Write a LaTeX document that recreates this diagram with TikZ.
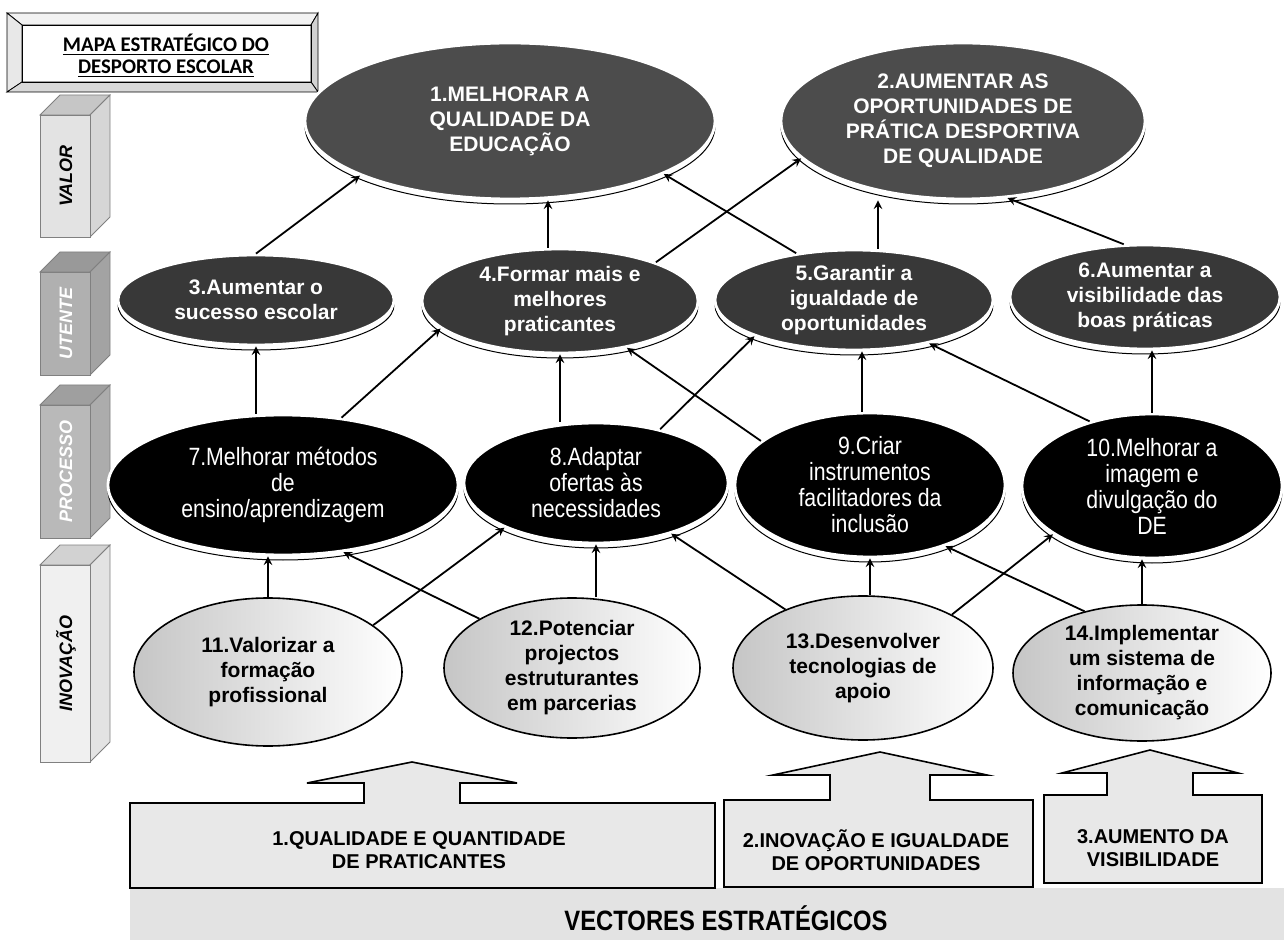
\documentclass[tikz,border=0pt]{standalone}
\usepackage{fontspec}
\setmainfont{Liberation Sans}
\newfontfamily\titlefont{Carlito}
\newfontfamily\narrowfont[FakeStretch=0.85]{Liberation Sans}
\usetikzlibrary{arrows,shapes.geometric,shadows}

\begin{document}
\begin{tikzpicture}[x=0.5pt,y=-0.5pt,
  rim/.style={ellipse, inner sep=0pt, draw=white, line width=1.4pt, text=white, align=center,
    general shadow={draw=black, fill=white, line width=0.5pt, shadow yshift=-2.5pt}},
  valor/.style={rim, fill=black!70, font=\fontsize{10.5pt}{12.5pt}\selectfont\bfseries},
  utente/.style={rim, fill=black!78, font=\fontsize{10.5pt}{12.5pt}\selectfont\bfseries},
  processo/.style={rim, fill=black, font=\narrowfont\fontsize{12.5pt}{13pt}\selectfont},
  inovacao/.style={ellipse, inner sep=0pt, draw=black, line width=0.8pt, left color=gray!45,
    right color=white, align=center, font=\fontsize{10.5pt}{12.5pt}\selectfont\bfseries},
  link/.style={->,>=stealth,line width=0.9pt},
  vector/.style={fill=gray!18, draw=black, line width=0.8pt},
  vectortext/.style={align=center, font=\fontsize{10pt}{11.5pt}\selectfont\bfseries}]
\useasboundingbox (0,0) rectangle (1284,940);

% title frame
\filldraw[fill=gray!10] (7,13) -- (318,13) -- (311,25) -- (22,25) -- cycle;
\filldraw[fill=gray!18] (7,13) -- (22,25) -- (22,82) -- (7,92) -- cycle;
\filldraw[fill=gray!35] (318,13) -- (318,92) -- (311,82) -- (311,25) -- cycle;
\filldraw[fill=gray!30] (7,92) -- (318,92) -- (311,82) -- (22,82) -- cycle;
\draw (22,25) rectangle (311,82);
\node[align=center, font=\titlefont\fontsize{10.4pt}{11pt}\selectfont\bfseries] (title) at (166,56)
{\underline{MAPA ESTRATÉGICO DO}\\\underline{DESPORTO ESCOLAR}};

% perspective blocks
\foreach \yt/\yb/\fc/\tpc/\sdc/\lab/\txc [count=\i] in {
  95/237/gray!22/gray!45/gray!32/VALOR/black,
  252/375/gray!62/gray!80/gray!72/UTENTE/white,
  385/538/gray!55/gray!75/gray!65/PROCESSO/white,
  545/762/gray!12/gray!35/gray!22/INOVAÇÃO/black}
{
  \filldraw[fill=\tpc, draw=gray] (40,\yt+20) -- (60,\yt) -- (110,\yt) -- (90,\yt+20) -- cycle;
  \filldraw[fill=\sdc, draw=gray] (90,\yt+20) -- (110,\yt) -- (110,\yb-20) -- (90,\yb) -- cycle;
  \filldraw[fill=\fc, draw=gray] (40,\yt+20) rectangle (90,\yb);
  \node[rotate=90, text=\txc, font=\fontsize{9pt}{10pt}\selectfont\bfseries\itshape] (side\i)
    at (66,{(\yt+\yb+20)/2}) {\lab};
}

\node[valor, minimum width=205pt, minimum height=78pt] (1) at (510,121)
{1.MELHORAR A\\QUALIDADE DA\\EDUCAÇÃO};

\node[valor, minimum width=182pt, minimum height=78pt] (2) at (963,121)
{2.AUMENTAR AS\\OPORTUNIDADES DE\\PRÁTICA DESPORTIVA\\DE QUALIDADE};

\node[utente, minimum width=138pt, minimum height=45pt] (3) at (256,300)
{3.Aumentar o\\sucesso escolar};

\node[utente, minimum width=138pt, minimum height=52pt] (4) at (560,301)
{4.Formar mais e\\melhores\\praticantes};

\node[utente, minimum width=139pt, minimum height=50pt] (5) at (854,300)
{5.Garantir a\\igualdade de\\oportunidades};

\node[utente, minimum width=135pt, minimum height=52pt] (6) at (1145,297)
{6.Aumentar a\\visibilidade das\\boas práticas};

\node[processo, minimum width=175pt, minimum height=70pt] (7) at (283,485)
{7.Melhorar métodos\\de\\ensino/aprendizagem};

\node[processo, minimum width=132pt, minimum height=60pt] (8) at (596,483)
{8.Adaptar\\ofertas às\\necessidades};

\node[processo, minimum width=135pt, minimum height=72pt] (9) at (870,485)
{9.Criar\\instrumentos\\facilitadores da\\inclusão};

\node[processo, minimum width=130pt, minimum height=72pt] (10) at (1152,486)
{10.Melhorar a\\imagem e\\divulgação do\\DE};

\node[inovacao, minimum width=134pt, minimum height=74pt] (11) at (268,672)
{11.Valorizar a\\formação\\profissional};

\node[inovacao, minimum width=128pt, minimum height=70pt] (12) at (572,668)
{12.Potenciar\\projectos\\estruturantes\\em parcerias};

\node[inovacao, minimum width=130pt, minimum height=72pt] (13) at (863,668)
{13.Desenvolver\\tecnologias de\\apoio};

\node[inovacao, minimum width=129pt, minimum height=68pt] (14) at (1142,673)
{14.Implementar\\um sistema de\\informação e\\comunicação};

% links
\draw[link] (3.north) -- (1.200);
\draw[link] ([xshift=-6pt]4.north) -- ([xshift=-6pt]4.north |- 1.south);
\draw[link] (4.22) -- (2.193);
\draw[link] (5.141) -- (1.341);
\draw[link] ([xshift=12pt]5.north) -- ([xshift=12pt]5.north |- 2.south);
\draw[link] (6.112) -- (2.300);

\draw[link] (7.north -| 3.south) -- (3.south);
\draw[link] (7.49) -- (4.193);
\draw[link] (8.north -| 4.south) -- (4.south);
\draw[link] (8.40) -- (5.200);
\draw[link] (9.158) -- (4.325);
\draw[link] ([xshift=-4pt]9.north) -- ([xshift=-4pt]9.north |- 5.south);
\draw[link] (10.134) -- (5.330);
\draw[link] (10.north) -- (10.north |- 6.south);

\draw[link] (11.north) -- (11.north |- 7.south);
\draw[link] (11.24) -- (8.206);
\draw[link] (12.152) -- (7.312);
\draw[link] (12.north -| 8.south) -- (8.south);
\draw[link] (13.143) -- (8.326);
\draw[link] (13.north -| 9.south) -- (9.south);
\draw[link] (13.31) -- (10.206);
\draw[link] (14.133) -- (9.321);
\draw[link] (14.north) -- (14.north |- 10.south);

% strategic vectors
\fill[gray!22] (130,888) rectangle (1284,940);
\filldraw[vector] (130,803) -- (364,803) -- (364,783) -- (307,783) -- (412,762) -- (517,783)
  -- (460,783) -- (460,803) -- (715,803) -- (715,888) -- (130,888) -- cycle;
\filldraw[vector] (724,800) -- (830,800) -- (830,775) -- (773,775) -- (880,752) -- (987,775)
  -- (930,775) -- (930,800) -- (1033,800) -- (1033,887) -- (724,887) -- cycle;
\filldraw[vector] (1044,795) -- (1107,795) -- (1107,773) -- (1062,773) -- (1150,750) -- (1238,773)
  -- (1193,773) -- (1193,795) -- (1262,795) -- (1262,883) -- (1044,883) -- cycle;

\node[vectortext] (v1) at (419,850) {1.QUALIDADE E QUANTIDADE\\DE PRATICANTES};
\node[vectortext] (v2) at (876,850) {2.INOVAÇÃO E IGUALDADE\\DE OPORTUNIDADES};
\node[vectortext] (v3) at (1153,848) {3.AUMENTO DA\\VISIBILIDADE};
\node[font=\narrowfont\fontsize{14pt}{16pt}\selectfont\bfseries] (vectores) at (726,918)
{VECTORES ESTRATÉGICOS};
\end{tikzpicture}
\end{document}
